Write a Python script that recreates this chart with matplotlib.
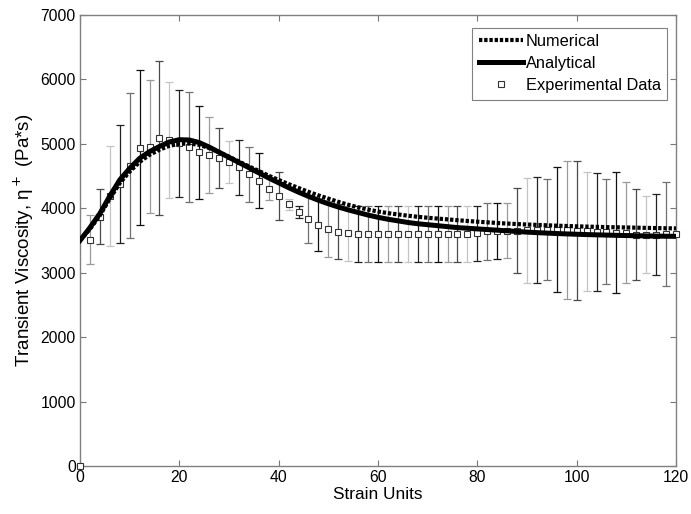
import numpy as np
import matplotlib.pyplot as plt

plt.rcParams['font.family'] = ['Liberation Sans', 'DejaVu Sans']

# strain grid for the model curves
strain = np.arange(0, 122, 2)

analytical = [3500, 3700, 3920, 4190, 4440, 4620, 4775, 4880, 4960, 5030,
              5065, 5060, 5020, 4950, 4870, 4790, 4710, 4630, 4550, 4470,
              4395, 4320, 4250, 4185, 4125, 4070, 4020, 3975, 3935, 3895,
              3860, 3830, 3805, 3780, 3760, 3745, 3730, 3715, 3700, 3690,
              3680, 3670, 3660, 3650, 3640, 3630, 3622, 3615, 3608, 3602,
              3597, 3592, 3588, 3584, 3580, 3577, 3574, 3571, 3568, 3566,
              3564]

numerical = [3500, 3680, 3890, 4150, 4390, 4570, 4720, 4830, 4910, 4970,
             5000, 5005, 4985, 4935, 4870, 4800, 4725, 4650, 4580, 4505,
             4440, 4375, 4315, 4255, 4200, 4150, 4100, 4055, 4015, 3980,
             3950, 3925, 3905, 3885, 3868, 3853, 3840, 3828, 3815, 3803,
             3792, 3782, 3772, 3763, 3755, 3748, 3742, 3736, 3730, 3725,
             3720, 3716, 3712, 3708, 3705, 3702, 3699, 3696, 3693, 3690,
             3688]

# experimental data (same strain points)
exp_mean = [0, 3510, 3865, 4185, 4375, 4662, 4940, 4956, 5090, 5055,
            5010, 4946, 4866, 4825, 4782, 4718, 4634, 4530, 4426, 4305,
            4190, 4062, 3945, 3830, 3740, 3678, 3637, 3611, 3603, 3603,
            3603, 3603, 3603, 3603, 3603, 3603, 3603, 3603, 3603, 3603,
            3611, 3642, 3645, 3655, 3655, 3660, 3668, 3668, 3666, 3660,
            3653, 3645, 3632, 3635, 3624, 3620, 3593, 3593, 3590, 3598,
            3600]

exp_err = [0, 380, 427, 776, 916, 1130, 1205, 1035, 1197, 900,
           828, 853, 724, 590, 468, 326, 432, 429, 427, 180,
           375, 85, 95, 370, 403, 429, 429, 425, 432, 432,
           432, 432, 432, 432, 432, 432, 432, 432, 432, 432,
           430, 445, 432, 432, 665, 815, 823, 781, 970, 1074,
           1081, 924, 911, 815, 944, 784, 706, 602, 626, 805,
           0]

bar_shades = ['#111111', '#9a9a9a', '#4a4a4a', '#c4c4c4', '#222222', '#707070']

fig = plt.figure(figsize=(6.91, 5.14), dpi=100)
ax = fig.add_axes([0.1158, 0.0934, 0.8625, 0.8774])

for i, (s, m, e) in enumerate(zip(strain, exp_mean, exp_err)):
    if e > 0:
        ax.errorbar(s, m, yerr=e, fmt='none', ecolor=bar_shades[i % len(bar_shades)],
                    elinewidth=0.9, capsize=3.2, capthick=0.9, zorder=2)

ax.plot(strain, numerical, color='black', lw=3.0, dashes=(0.8, 0.45),
        label='Numerical', zorder=4)
ax.plot(strain, analytical, color='black', lw=3.6, label='Analytical', zorder=4)
ax.plot(strain, exp_mean, 's', mfc='white', mec='#333333', mew=0.8, ms=4.6,
        ls='none', label='Experimental Data', zorder=3, clip_on=False)

ax.set_xlim(0, 120)
ax.set_ylim(0, 7000)
ax.set_xticks(np.arange(0, 121, 20))
ax.set_yticks(np.arange(0, 7001, 1000))
ax.tick_params(direction='in', top=True, right=True, length=4.5, width=0.8,
               color='#777777', labelsize=11.3, pad=3)
for sp in ax.spines.values():
    sp.set_color('#808080')
    sp.set_linewidth(1.0)

ax.set_xlabel('Strain Units', fontsize=12.4, labelpad=1)
ax.set_ylabel('Transient Viscosity, η$^+$ (Pa*s)', fontsize=13.5, labelpad=3)

leg = ax.legend(loc='upper right', bbox_to_anchor=(0.985, 0.972), fontsize=11.8,
                fancybox=False, framealpha=1, edgecolor='#808080',
                handlelength=2.7, handletextpad=0.15, labelspacing=0.42,
                borderpad=0.4, borderaxespad=0, markerscale=1.0)
leg.get_frame().set_linewidth(0.8)

fig.savefig('out.png', dpi=100)
